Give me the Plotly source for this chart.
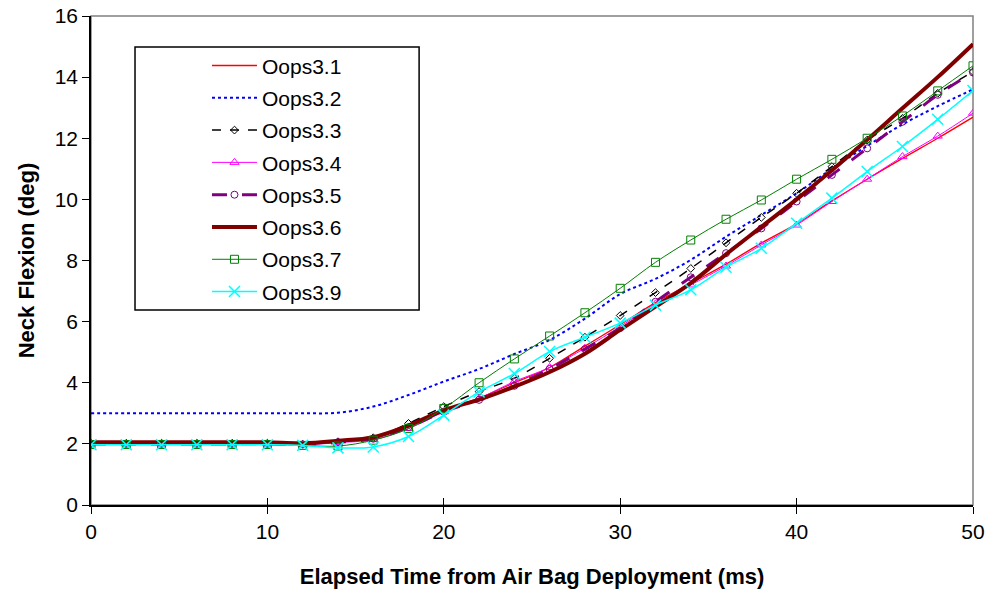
import plotly.graph_objects as go

time_ms = [0, 2, 4, 6, 8, 10, 12, 14, 16, 18, 20, 22, 24, 26, 28, 30, 32, 34, 36, 38, 40, 42, 44, 46, 48, 50]

oops3_1 = [2.03, 2.03, 2.03, 2.03, 2.03, 2.03, 2.0, 2.06, 2.18, 2.58, 3.1, 3.5, 4.0, 4.5, 5.2, 5.9, 6.62, 7.25, 7.88, 8.57, 9.2, 9.95, 10.66, 11.34, 12.0, 12.69]
oops3_2 = [3.0, 3.0, 3.0, 3.0, 3.0, 3.0, 3.0, 3.02, 3.22, 3.6, 4.04, 4.45, 4.94, 5.4, 6.1, 6.9, 7.4, 8.02, 8.78, 9.49, 10.2, 11.0, 11.75, 12.45, 13.05, 13.6]
oops3_3 = [2.02, 2.02, 2.02, 2.02, 2.02, 2.02, 1.99, 2.07, 2.2, 2.67, 3.22, 3.71, 4.15, 4.8, 5.49, 6.2, 6.95, 7.74, 8.58, 9.41, 10.2, 11.07, 11.94, 12.65, 13.47, 14.18]
oops3_4 = [2.0, 2.0, 2.0, 2.0, 2.0, 2.0, 1.97, 2.04, 2.14, 2.5, 3.05, 3.49, 4.04, 4.5, 5.13, 5.84, 6.58, 7.2, 7.82, 8.51, 9.16, 9.93, 10.66, 11.4, 12.07, 12.82]
oops3_5 = [2.0, 2.0, 2.0, 2.0, 2.0, 2.0, 1.98, 2.05, 2.17, 2.55, 3.05, 3.44, 3.9, 4.45, 5.1, 5.79, 6.65, 7.45, 8.24, 9.05, 9.93, 10.8, 11.67, 12.54, 13.42, 14.15]
oops3_6 = [2.05, 2.05, 2.05, 2.05, 2.05, 2.05, 2.02, 2.1, 2.22, 2.6, 3.1, 3.45, 3.87, 4.35, 4.95, 5.73, 6.49, 7.26, 8.2, 9.1, 10.0, 10.95, 11.95, 12.98, 14.0, 15.08]
oops3_7 = [1.98, 1.98, 1.98, 1.98, 1.98, 1.98, 1.95, 1.93, 2.12, 2.5, 3.16, 4.0, 4.78, 5.53, 6.29, 7.09, 7.94, 8.67, 9.35, 9.98, 10.66, 11.31, 12.0, 12.73, 13.55, 14.37]
oops3_9 = [1.97, 1.97, 1.97, 1.97, 1.97, 1.97, 1.95, 1.87, 1.9, 2.24, 2.94, 3.7, 4.3, 5.02, 5.49, 5.95, 6.54, 7.04, 7.78, 8.4, 9.22, 10.04, 10.91, 11.73, 12.62, 13.56]

names = ["Oops3.1", "Oops3.2", "Oops3.3", "Oops3.4", "Oops3.5", "Oops3.6", "Oops3.7", "Oops3.9"]
series = [oops3_1, oops3_2, oops3_3, oops3_4, oops3_5, oops3_6, oops3_7, oops3_9]

styles = [
    dict(line=dict(color="#FF0000", width=1.3), mode="lines", marker=None),
    dict(line=dict(color="#0000FF", width=2, dash="dot"), mode="lines", marker=None),
    dict(line=dict(color="#000000", width=1.5, dash="dash"), mode="lines+markers",
         marker=dict(symbol="diamond-open", size=6, color="#000000", line=dict(width=1))),
    dict(line=dict(color="#FF00FF", width=1), mode="lines+markers",
         marker=dict(symbol="triangle-up-open", size=8, color="#FF00FF", line=dict(width=1))),
    dict(line=dict(color="#800080", width=3, dash="longdash"), mode="lines+markers",
         marker=dict(symbol="circle-open", size=7, color="#800080", line=dict(width=1))),
    dict(line=dict(color="#800000", width=4), mode="lines", marker=None),
    dict(line=dict(color="#008000", width=1), mode="lines+markers",
         marker=dict(symbol="square-open", size=8, color="#008000", line=dict(width=1))),
    dict(line=dict(color="#00FFFF", width=1.5), mode="lines+markers",
         marker=dict(symbol="x-thin", size=11, color="#00FFFF", line=dict(width=1.5, color="#00FFFF"))),
]

fig = go.Figure()
for i, (nm, vals, st) in enumerate(zip(names, series, styles)):
    kw = dict(x=time_ms, y=vals, name=nm, mode=st["mode"], legendgroup=f"g{i}")
    line = dict(st["line"])
    line["shape"] = "spline"
    kw["line"] = line
    if st["marker"] is not None:
        kw["marker"] = st["marker"]
    fig.add_trace(go.Scatter(**kw))

# empty helper trace so the overlay axis (inner half of crossing x ticks) is drawn
fig.add_trace(go.Scatter(x=[], y=[], xaxis="x2", showlegend=False, hoverinfo="skip"))

# plot-area border (top/right gray)
fig.add_shape(type="rect", xref="paper", yref="paper", x0=0, x1=1, y0=0, y1=1,
              line=dict(color="#808080", width=1.5), layer="below")
# legend box
fig.add_shape(type="rect", xref="paper", yref="paper", x0=0.0499, x1=0.372, y0=0.399, y1=0.9366,
              line=dict(color="#000000", width=1.5), fillcolor="white", layer="below")

font_family = "Liberation Sans, Arial, sans-serif"
fig.update_layout(
    width=989, height=597,
    margin=dict(l=91, r=16, t=16, b=92, autoexpand=False),
    paper_bgcolor="white", plot_bgcolor="white",
    font=dict(family=font_family, size=21, color="#000000"),
    showlegend=True,
    legend=dict(x=0.1315, y=0.94, xanchor="left", yanchor="top",
                bgcolor="rgba(0,0,0,0)", borderwidth=0,
                traceorder="grouped", tracegroupgap=2,
                font=dict(family=font_family, size=21), itemwidth=45),
    xaxis=dict(range=[0, 50], dtick=10, tick0=0, showgrid=False, zeroline=False,
               showline=True, linecolor="#000000", linewidth=1.5, automargin=False,
               ticks="outside", ticklen=7, tickcolor="#000000",
               tickfont=dict(size=21), ticklabeloverflow="allow",
               title=dict(text="<b>Elapsed Time from Air Bag Deployment (ms)</b>",
                          font=dict(size=22), standoff=27)),
    xaxis2=dict(range=[0, 50], dtick=10, tick0=0, overlaying="x", side="bottom",
                showgrid=False, zeroline=False, showline=False, showticklabels=False,
                automargin=False, ticks="inside", ticklen=7, tickcolor="#000000"),
    yaxis=dict(range=[0, 16], dtick=2, tick0=0, showgrid=False, zeroline=False,
               showline=True, linecolor="#000000", linewidth=1.5, automargin=False,
               ticks="outside", ticklen=7, tickcolor="#000000",
               tickfont=dict(size=21), ticklabeloverflow="allow",
               title=dict(text="<b>Neck Flexion (deg)</b>", font=dict(size=22), standoff=14)),
)

fig.write_html(
    "out.html",
    config={"displayModeBar": False},
    post_script="document.body.style.margin='0px'; document.body.style.overflow='hidden';",
)
